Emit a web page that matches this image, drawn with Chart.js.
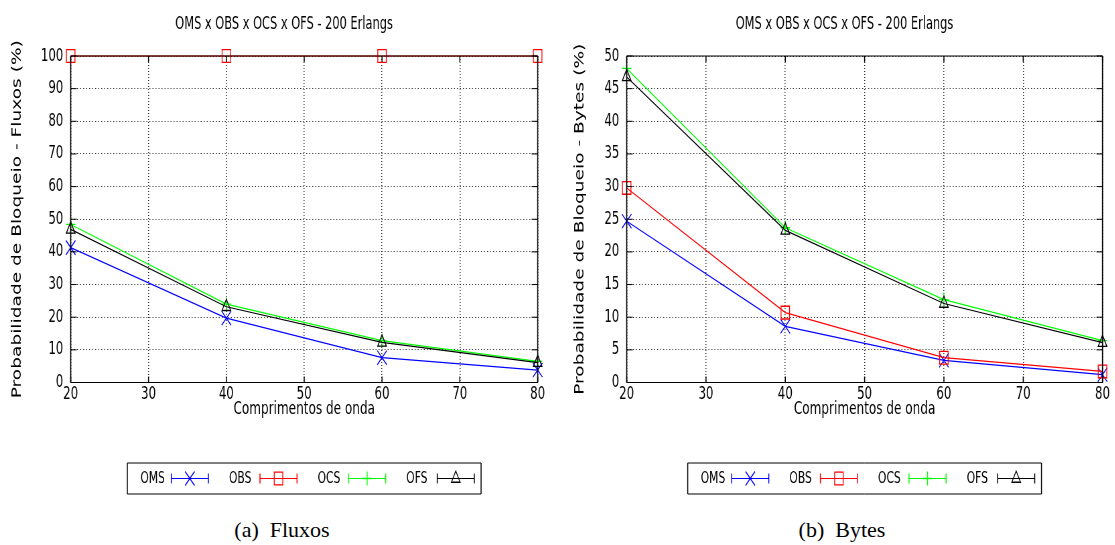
<!DOCTYPE html>
<html>
<head>
<meta charset="utf-8">
<title>OMS x OBS x OCS x OFS - 200 Erlangs</title>
<script src="https://cdn.jsdelivr.net/npm/chart.js@4/dist/chart.umd.min.js"></script>
<style>
  html, body { margin: 0; padding: 0; background: #fff; }
  body { width: 1115px; height: 545px; position: relative; overflow: hidden; }
  /* the original figure is squeezed horizontally, so each panel is drawn wide and scaled */
  .panel { position: absolute; top: 0; width: 831px; height: 500px; transform: scaleX(0.67); transform-origin: 0 0; }
  .caption { position: absolute; top: 519px; transform: translateX(-50%); white-space: nowrap;
             font-family: "Liberation Serif", "Times New Roman", serif; font-size: 22px; line-height: 22px; color: #000; }
</style>
</head>
<body>
<div class="panel" style="left:0px"><canvas id="fluxosChart" width="831" height="500"></canvas></div>
<div class="panel" style="left:558px"><canvas id="bytesChart" width="831" height="500"></canvas></div>
<div class="caption" style="left:282px">(a)&ensp;Fluxos</div>
<div class="caption" style="left:842px">(b)&ensp;Bytes</div>

<script>
// ---- Data ----
const wavelengths = [20, 40, 60, 80];
const seriesNames = ['OMS', 'OBS', 'OCS', 'OFS'];
const xTickLabels = [20, 30, 40, 50, 60, 70, 80];

// (a) Fluxos
const omsFluxos = [41.3, 19.7, 7.6, 3.8];
const obsFluxos = [100, 100, 100, 100];
const ocsFluxos = [48.4, 24.0, 12.8, 6.5];
const ofsFluxos = [46.9, 23.2, 12.3, 6.1];
const fluxosYTicks = [0, 10, 20, 30, 40, 50, 60, 70, 80, 90, 100];

// (b) Bytes
const omsBytes = [24.7, 8.6, 3.4, 1.2];
const obsBytes = [29.8, 10.7, 3.8, 1.7];
const ocsBytes = [48.1, 23.7, 12.7, 6.4];
const ofsBytes = [46.8, 23.3, 12.1, 6.1];
const bytesYTicks = [0, 5, 10, 15, 20, 25, 30, 35, 40, 45, 50];

const chartTitle = 'OMS x OBS x OCS x OFS - 200 Erlangs';
const FONT = "'DejaVu Sans', 'Liberation Sans', sans-serif";

// ---- Styles (gnuplot look) ----
const seriesStyle = [
    { color: '#0000ff', point: 'crossRot', radius: 10 },
    { color: '#ff0000', point: 'rect',     radius: 9 },
    { color: '#00ff00', point: 'cross',    radius: 7 },
    { color: '#000000', point: 'triangle', radius: 7.5 },
];

function buildDatasets(values) {
    return seriesNames.map((name, i) => ({
        label: name,
        data: wavelengths.map((w, j) => ({ x: w, y: values[i][j] })),
        borderColor: seriesStyle[i].color,
        backgroundColor: 'transparent',
        borderWidth: 1.2,
        pointStyle: seriesStyle[i].point,
        pointRadius: seriesStyle[i].radius,
        pointBorderWidth: 1.3,
        pointBorderColor: seriesStyle[i].color,
        pointBackgroundColor: 'transparent',
        tension: 0,
        clip: false,
        order: seriesNames.length - i,   // later series on top, like gnuplot
    }));
}

// ---- Plugins ----
const gnuTitle = {
    id: 'gnuTitle',
    afterDraw(chart) {
        const ctx = chart.ctx, a = chart.chartArea;
        ctx.save();
        ctx.font = `17px ${FONT}`;
        ctx.fillStyle = '#000';
        ctx.textAlign = 'center';
        ctx.textBaseline = 'middle';
        ctx.fillText(chartTitle, (a.left + a.right) / 2 - 30, 25);
        ctx.restore();
    }
};

const gnuFrame = {
    id: 'gnuFrame',
    afterDatasetsDraw(chart) {
        const ctx = chart.ctx, a = chart.chartArea;
        const xs = chart.scales.x, ys = chart.scales.y;
        ctx.save();
        ctx.strokeStyle = '#000';
        ctx.setLineDash([]);
        // small inner tick marks
        ctx.lineWidth = 1;
        ctx.beginPath();
        ys.ticks.forEach(t => {
            const py = ys.getPixelForValue(t.value);
            ctx.moveTo(a.left, py); ctx.lineTo(a.left + 9, py);
            ctx.moveTo(a.right - 9, py); ctx.lineTo(a.right, py);
        });
        ctx.stroke();
        ctx.lineWidth = 1.5;
        ctx.beginPath();
        xs.ticks.forEach(t => {
            const px = xs.getPixelForValue(t.value);
            ctx.moveTo(px, a.bottom); ctx.lineTo(px, a.bottom - 6);
            ctx.moveTo(px, a.top); ctx.lineTo(px, a.top + 6);
        });
        ctx.stroke();
        // border box
        ctx.lineWidth = 1.2;
        ctx.beginPath();
        ctx.moveTo(a.left, a.top); ctx.lineTo(a.right, a.top);
        ctx.moveTo(a.left, a.bottom); ctx.lineTo(a.right, a.bottom);
        ctx.stroke();
        ctx.lineWidth = 1.7;
        ctx.beginPath();
        ctx.moveTo(a.left, a.top); ctx.lineTo(a.left, a.bottom);
        ctx.moveTo(a.right, a.top); ctx.lineTo(a.right, a.bottom);
        ctx.stroke();
        ctx.restore();
    }
};

const gnuLegend = {
    id: 'gnuLegend',
    afterDraw(chart) {
        const ctx = chart.ctx, a = chart.chartArea;
        const boxW = 528, boxTop = 463, boxH = 31;
        const bx = (a.left + a.right) / 2 - boxW / 2;
        const cy = boxTop + boxH / 2;
        ctx.save();
        ctx.strokeStyle = '#000';
        ctx.lineWidth = 1;
        ctx.beginPath();
        ctx.moveTo(bx, boxTop); ctx.lineTo(bx + boxW, boxTop);
        ctx.moveTo(bx, boxTop + boxH); ctx.lineTo(bx + boxW, boxTop + boxH);
        ctx.stroke();
        ctx.lineWidth = 1.5;
        ctx.beginPath();
        ctx.moveTo(bx, boxTop); ctx.lineTo(bx, boxTop + boxH);
        ctx.moveTo(bx + boxW, boxTop); ctx.lineTo(bx + boxW, boxTop + boxH);
        ctx.stroke();

        ctx.font = `16px ${FONT}`;
        ctx.textAlign = 'left';
        ctx.textBaseline = 'middle';
        chart.data.datasets.forEach((ds, i) => {
            const ox = bx + i * 132.3;
            const x1 = ox + 65.7, x2 = ox + 121;
            ctx.fillStyle = '#000';
            ctx.fillText(ds.label, ox + 19.4, cy);
            ctx.strokeStyle = ds.borderColor;
            ctx.lineWidth = 1.2;
            ctx.beginPath();
            ctx.moveTo(x1, cy); ctx.lineTo(x2, cy);
            ctx.stroke();
            ctx.lineWidth = 1.5;
            ctx.beginPath();
            ctx.moveTo(x1, cy - 5); ctx.lineTo(x1, cy + 5);
            ctx.moveTo(x2, cy - 5); ctx.lineTo(x2, cy + 5);
            ctx.stroke();
            ctx.lineWidth = 1.3;
            ctx.fillStyle = 'rgba(0,0,0,0)';
            if (Chart.helpers && Chart.helpers.drawPoint) {
                Chart.helpers.drawPoint(ctx, {
                    pointStyle: ds.pointStyle, radius: ds.pointRadius,
                    rotation: 0, borderWidth: 1.3
                }, (x1 + x2) / 2, cy);
            }
        });
        ctx.restore();
    }
};

// ---- Chart builder ----
function makeChart(id, values, yTicks, yTitle, geom) {
    const ctx = document.getElementById(id);
    if (!ctx) return;
    const tickFont = { family: FONT, size: 17.5 };

    new Chart(ctx, {
        type: 'line',
        data: { datasets: buildDatasets(values) },
        options: {
            responsive: false,
            animation: false,
            devicePixelRatio: 1,
            layout: { padding: { left: 0, top: 56, right: geom.padRight, bottom: 79.5 } },
            plugins: { legend: { display: false }, tooltip: { enabled: false } },
            scales: {
                x: {
                    type: 'linear',
                    min: xTickLabels[0],
                    max: xTickLabels[xTickLabels.length - 1],
                    ticks: { stepSize: xTickLabels[1] - xTickLabels[0], padding: 1, color: '#000', font: tickFont },
                    grid: { color: 'rgba(0,0,0,0.8)', lineWidth: 1.5, drawTicks: false },
                    border: { display: false, dash: [1, 2] },
                    title: { display: true, text: 'Comprimentos de onda', color: '#000',
                             font: { family: FONT, size: 18 }, padding: { top: 0, bottom: 0 } },
                    afterFit: s => { s.height = 38; }
                },
                y: {
                    min: yTicks[0],
                    max: yTicks[yTicks.length - 1],
                    ticks: { stepSize: yTicks[1] - yTicks[0], padding: 11, color: '#000', font: tickFont },
                    grid: { color: 'rgba(0,0,0,0.8)', lineWidth: 1, drawTicks: false },
                    border: { display: false, dash: [1.5, 3] },
                    title: { display: true, text: yTitle, color: '#000',
                             font: { family: FONT, size: 18.6 }, padding: { top: geom.titlePad, bottom: 0 } },
                    afterFit: s => { s.width = geom.yWidth; }
                }
            }
        },
        plugins: [gnuFrame, gnuLegend, gnuTitle]
    });
}

// ---- Init ----
makeChart('fluxosChart', [omsFluxos, obsFluxos, ocsFluxos, ofsFluxos], fluxosYTicks,
          'Probabilidade de Bloqueio - Fluxos (%)', { yWidth: 105.5, padRight: 28.5, titlePad: 14.6 });
makeChart('bytesChart', [omsBytes, obsBytes, ocsBytes, ofsBytes], bytesYTicks,
          'Probabilidade de Bloqueio - Bytes (%)', { yWidth: 102.5, padRight: 18.3, titlePad: 21.6 });
</script>
</body>
</html>
